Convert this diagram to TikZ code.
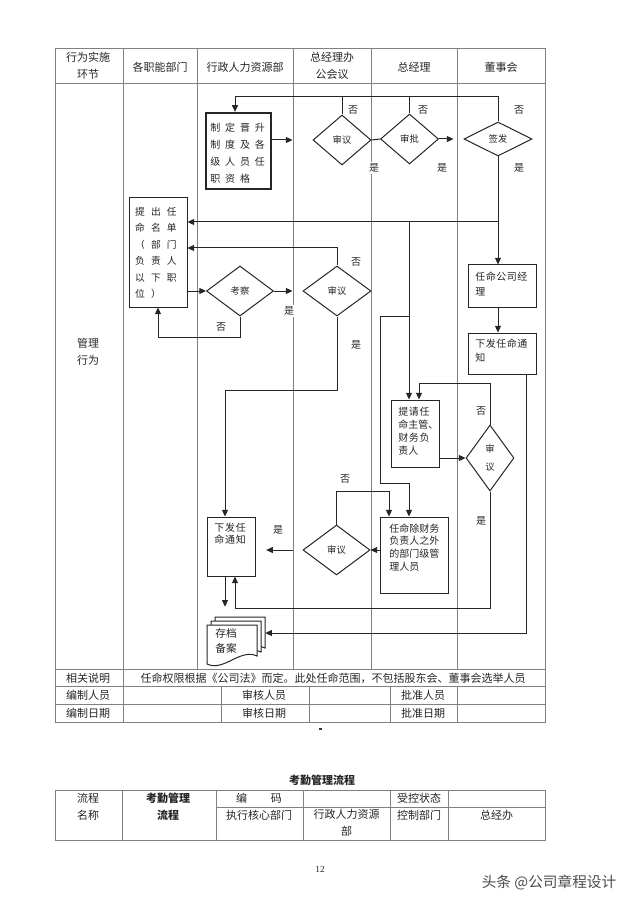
\documentclass[tikz,border=0pt]{standalone}
\usepackage{fontspec}
\setmainfont{Noto Sans CJK SC}
\newfontfamily\latf{Liberation Serif}
\usetikzlibrary{arrows.meta,shapes.geometric,fit,calc}
\def\lsp#1#2{\def\lspk{#1}\lspa#2\relax}
\def\lspa#1{\ifx#1\relax\else#1\kern\lspk\relax\expandafter\lspa\fi}
\begin{document}
\begin{tikzpicture}[x=0.75pt,y=-0.75pt,
  tl/.style={draw=black!50,line width=0.6pt},
  fl/.style={draw=black!85,line width=0.75pt},
  arr/.style={fl,-{Triangle[length=5pt,width=4.5pt]}},
  box/.style={draw=black!85,line width=0.75pt,inner sep=0pt},
  dia/.style={diamond,draw=black!85,line width=0.75pt,inner sep=0pt,text=black!85,font=\fontsize{7}{8}\selectfont},
  tt/.style={font=\fontsize{8.25}{12.5}\selectfont,text=black!85,inner sep=0pt,align=center},
  bt/.style={font=\fontsize{7.5}{9.6}\selectfont,text=black!85,inner sep=0pt,align=left},
  yn/.style={font=\fontsize{7.5}{9}\selectfont,fill=white,inner sep=1pt,text=black!85}
]
\useasboundingbox[fill=white] (0,0) rectangle (640,905);

% ---------- main table ----------
\draw[tl] (55,48) rectangle (545,722);
\draw[tl] (55,83) -- (545,83);
\draw[tl] (55,669) -- (545,669);
\draw[tl] (55,686) -- (545,686);
\draw[tl] (55,704) -- (545,704);
\draw[tl] (123,48) -- (123,722);
\foreach \x in {197,293,371,457} \draw[tl] (\x,48) -- (\x,669);
\foreach \x in {221,309,390,457} \draw[tl] (\x,686) -- (\x,722);

\node[tt] (h1) at (88,66) {行为实施\\环节};
\node[tt] (h2) at (160,67) {各职能部门};
\node[tt] (h3) at (245,67) {行政人力资源部};
\node[tt] (h4) at (332,66) {总经理办\\公会议};
\node[tt] (h5) at (414,67) {总经理};
\node[tt] (h6) at (501,67) {董事会};
\node[tt] (gl) at (88,352) {管理\\行为};

\node[tt] (r1a) at (88,678) {相关说明};
\node[tt] (r1b) at (333,678) {任命权限根据《公司法》而定。此处任命范围，不包括股东会、董事会选举人员};
\node[tt] (r2a) at (88,695.5) {编制人员};
\node[tt] (r2b) at (264,695.5) {审核人员};
\node[tt] (r2c) at (423,695.5) {批准人员};
\node[tt] (r3a) at (88,713) {编制日期};
\node[tt] (r3b) at (264,713) {审核日期};
\node[tt] (r3c) at (423,713) {批准日期};

% ---------- flow nodes ----------
\node[box,line width=1.7pt,fit={(206,113) (271,189)}] (b1) {};
\node[bt,font=\fontsize{7.5}{12.75}\selectfont] (b1t) at (240,153)
  {\lsp{3.6pt}{制定晋升}\\\lsp{3.6pt}{制度及各}\\\lsp{3.6pt}{级人员任}\\\lsp{3.6pt}{职资格}};

\node[dia,minimum width=43.5pt,minimum height=37.5pt] (d1) at (342,140) {审议};
\node[dia,minimum width=43.5pt,minimum height=37.5pt] (sp) at (409.5,139) {审批};
\node[dia,minimum width=51pt,minimum height=25.5pt] (qf) at (498,139) {签发};

\node[box,fit={(129,198) (187,307)}] (tc) {};
\node[bt,font=\fontsize{7.3}{12.4}\selectfont] (tct) at (159,253)
  {\lsp{4.6pt}{提出任}\\\lsp{4.6pt}{命名单}\\\lsp{4.6pt}{（部门}\\\lsp{4.6pt}{负责人}\\\lsp{4.6pt}{以下职}\\\lsp{4.6pt}{位）}};

\node[dia,minimum width=50.25pt,minimum height=37.5pt] (kc) at (240,291) {考察};
\node[dia,minimum width=51pt,minimum height=37.5pt] (d2) at (337,291) {审议};

\node[box,fit={(468,265) (536,307)}] (rg) {};
\node[bt,anchor=west,font=\fontsize{7.5}{10.7}\selectfont] (rgt) at (475,284) {\lsp{0.4pt}{任命公司经}\\理};
\node[box,fit={(468,333) (536,374)}] (xf2) {};
\node[bt,anchor=west,font=\fontsize{7.5}{10.7}\selectfont] (xf2t) at (475,350.5) {\lsp{0.4pt}{下发任命通}\\知};

\node[box,fit={(391,400) (439,467)}] (tq) {};
\node[bt,anchor=west,font=\fontsize{7.5}{9.8}\selectfont] (tqt) at (398,431) {\lsp{0.5pt}{提请任}\\命主管、\\\lsp{0.5pt}{财务负}\\责人};

\node[dia,align=center,font=\fontsize{7}{13.5}\selectfont,minimum width=36pt,minimum height=49.5pt] (d3) at (490,458) {审\\议};

\node[box,fit={(380,517) (448,593)}] (rm) {};
\node[bt,anchor=west] (rmt) at (389,547.5) {任命除财务\\负责人之外\\的部门级管\\理人员};

\node[dia,minimum width=50.25pt,minimum height=37.5pt] (d4) at (336.5,550) {审议};

\node[box,fit={(207,517) (255,576)}] (xf1) {};
\node[bt,anchor=west,font=\fontsize{7.5}{9}\selectfont] (xf1t) at (214,534) {\lsp{0.6pt}{下发任}\\\lsp{0.6pt}{命通知}};

% multi-document
\foreach \d in {8,4,0}{
  \begin{scope}[shift={(\d,-\d)}]
  \filldraw[fill=white,draw=black!85,line width=0.75pt]
    (207,625) -- (257,625) -- (257,656) .. controls (240,648) and (224,672) .. (207,664) -- cycle;
  \end{scope}}
\node[fit={(207,617) (265,664)},inner sep=0pt] (doc) {};
\node[bt,font=\fontsize{8}{10.8}\selectfont] (doct) at (226,641) {存档\\备案};

% ---------- connectors ----------
\draw[arr,shorten >=15pt] (b1.east |- d1.west) -- (d1.west);
\draw[fl] (d1.east) -- (sp.west);
\draw[arr,shorten >=7.5pt] (sp.east) -- (qf.west);
\coordinate (top) at (235,97);
\draw[arr] (qf.north) |- (top) -- (top |- b1.north);
\draw[fl] (d1.north) -- (d1.north |- top);
\draw[fl] (sp.north) -- (sp.north |- top);

\draw[arr] (qf.south) -- (qf.south |- rg.north);
\coordinate (j0) at (498,222);
\coordinate (j1) at (409,222);
\draw[arr] (j0) -- (tc.east |- j0);
\draw[arr] (j1) -- (j1 |- tq.north);
\draw[arr] (j1 |- 0,316) -| (380,483) -| (rm.north -| 409,0);
\draw[arr] (qf.south |- rg.south) -- (qf.south |- xf2.north);
\coordinate (c2) at (526,633);
\draw[arr] (c2 |- xf2.south) -- (c2) -- (doc.east |- c2);

\draw[arr] (tq.east |- d3.west) -- (d3.west);
\draw[arr] (d3.north) |- (419,383) -- (tq.north -| 419,0);
\coordinate (c3) at (235,608);
\draw[arr] (d3.south) |- (c3) -- (c3 |- xf1.south);

\draw[arr] (rm.west |- d4.east) -- (d4.east);
\draw[arr,shorten <=7.5pt,shorten >=8pt] (d4.west) -- (xf1.east |- d4.west);
\draw[arr] (d4.north) |- (389,491) -- (rm.north -| 389,0);

\draw[arr] (tc.east |- kc.west) -- (kc.west);
\draw[arr,shorten >=7.5pt] (kc.east) -- (d2.west);
\draw[arr] (kc.south) |- (158,337) -- (tc.south -| 158,0);
\draw[arr] (d2.north) |- (tc.east |- 0,248);
\coordinate (c1) at (225,390);
\draw[arr] (d2.south) |- (c1) -- (c1 |- xf1.north);
\draw[arr,shorten >=7.5pt] (xf1.south -| 225,0) -- (doc.north -| 225,0);

% ---------- yes / no labels ----------
\node[yn] (n1) at (353,110) {否};
\node[yn] (y1) at (374,168) {是};
\node[yn] (n2) at (423,110) {否};
\node[yn] (y2) at (442,168) {是};
\node[yn] (n3) at (519,110) {否};
\node[yn] (y3) at (519,168) {是};
\node[yn] (n4) at (356,262) {否};
\node[yn] (y4) at (289,311) {是};
\node[yn] (y5) at (356,345) {是};
\node[yn] (n5) at (221,327) {否};
\node[yn] (n6) at (481,411) {否};
\node[yn] (y6) at (481,521) {是};
\node[yn] (n7) at (345,479) {否};
\node[yn] (y7) at (278,530) {是};

% small mark
\fill[black!80] (319,727.5) rectangle (321.5,730);

% ---------- second table ----------
\node[tt,font=\bfseries\fontsize{8.25}{12}\selectfont] (title) at (322,780) {考勤管理流程};
\draw[tl] (55,790) rectangle (545,840);
\draw[tl] (216,807) -- (545,807);
\foreach \x in {122,216,303,390,448} \draw[tl] (\x,790) -- (\x,840);
\node[tt,font=\fontsize{8.25}{12.75}\selectfont] (s1) at (88,806.5) {流程\\名称};
\node[tt,font=\bfseries\fontsize{8.25}{12.75}\selectfont] (s2) at (168,806.5) {考勤管理\\流程};
\node[tt] (s3) at (259,798.5) {编\hspace{18pt}码};
\node[tt] (s4) at (419,798.5) {受控状态};
\node[tt] (s5) at (259,815) {执行核心部门};
\node[tt] (s6) at (346.5,823) {行政人力资源\\部};
\node[tt] (s7) at (419,815) {控制部门};
\node[tt] (s8) at (496.5,815) {总经办};

\node[font=\latf\fontsize{7}{8}\selectfont,text=black!85] (pg) at (320,869) {12};
\node[font=\fontsize{11}{13}\selectfont,text=black!70] (wm) at (549,882) {头条 @公司章程设计};
\end{tikzpicture}
\end{document}
